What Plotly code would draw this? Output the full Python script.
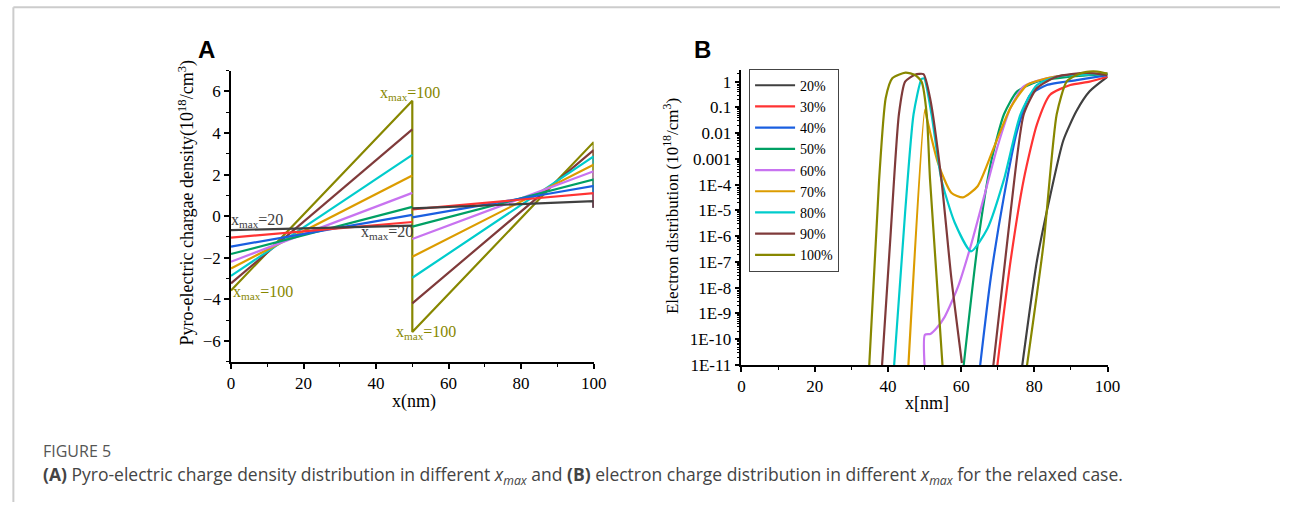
import plotly.graph_objects as go

W, H = 1293, 512

# ---------------- Panel A: pyro-electric charge density ----------------
XMAX = [20, 30, 40, 50, 60, 70, 80, 90, 100]
COLORS = ["#404040", "#ff3333", "#1a5fe0", "#00a064", "#c873f0",
          "#dc9c00", "#00cccc", "#7f3a3a", "#878700"]
A_AT_0 = [-0.67, -1.03, -1.46, -1.82, -2.19, -2.51, -2.87, -3.23, -3.57]
A_AT_50_LEFT = [-0.45, -0.28, 0.06, 0.45, 1.12, 1.96, 2.95, 4.17, 5.55]
A_AT_50_RIGHT = [0.38, 0.33, -0.06, -0.50, -1.10, -1.95, -2.96, -4.19, -5.57]
A_AT_100 = [0.72, 1.11, 1.46, 1.77, 2.16, 2.48, 2.87, 3.18, 3.56]
A_END_LEVEL = 0.42

# ---------------- Panel B: electron distribution (log scale) ----------------
B_LABELS = ["20%", "30%", "40%", "50%", "60%", "70%", "80%", "90%", "100%"]
B_X = [
    [76.7, 80.7, 84.3, 87.9, 91.5, 95.1, 100],
    [69.9, 73.5, 77.1, 80.7, 84.3, 89.8, 95.1, 100],
    [65.2, 68.1, 71.7, 75.3, 78.9, 83.4, 91.5, 100],
    [60.7, 64.5, 68.1, 71.7, 75.3, 80.7, 89.8, 100],
    [50.0, 50.1, 51.6, 53.2, 55.5, 59.1, 62.7, 66.3, 69.9, 73.5, 77.1, 83.4, 90.0, 100],
    [45.6, 50.1, 50.6, 53.7, 57.3, 60.5, 64.5, 69.0, 73.5, 78.0, 83.4, 89.8, 100],
    [41.7, 44.7, 47.0, 49.2, 49.9, 51.9, 54.6, 58.2, 62.7, 67.2, 71.7, 76.2, 80.7, 86.1, 100],
    [38.4, 40.7, 43.0, 44.7, 47.4, 49.7, 51.5, 54.6, 57.3, 60.2, None,
     68.8, 73.5, 77.1, 80.7, 86.1, 94.2, 100],
    [34.9, 37.6, 39.4, 41.2, 44.8, 47.4, 49.2, 50.6, 51.5, 54.9, None,
     78.0, 82.5, 86.1, 88.8, 91.5, 94.2, 97.0, 100],
]
B_Y = [
    [1e-11, 1.1e-7, 3.6e-5, 5.2e-3, 0.072, 0.42, 1.55],
    [1e-11, 1.1e-7, 1.6e-4, 0.022, 0.31, 0.74, 1.0, 1.55],
    [1e-11, 2.5e-8, 3.6e-5, 0.0126, 0.31, 0.74, 1.15, 1.8],
    [1e-11, 4.6e-7, 6.8e-4, 0.054, 0.42, 1.0, 1.55, 2.0],
    [1e-11, 1.5e-10, 1.6e-10, 2.6e-10, 7.4e-10, 1.05e-8, 4.6e-7, 3.6e-5,
     2.9e-3, 0.098, 0.65, 1.35, 1.85, 2.1],
    [1e-11, 0.083, 0.04, 6.8e-4, 4.9e-5, 3.2e-5, 8.7e-5, 2.9e-3, 0.098,
     0.74, 1.35, 1.85, 2.1],
    [1e-11, 8.5e-6, 0.054, 1.26, 1.32, 0.054, 1.6e-4, 3.5e-6, 2.6e-7,
     2.0e-6, 1.6e-4, 0.054, 0.74, 1.55, 2.0],
    [1e-11, 1e-6, 0.054, 1.0, 1.86, 1.95, 0.23, 1.6e-4, 2.5e-8, 1.2e-11, None,
     1e-11, 8.5e-6, 0.054, 0.56, 1.55, 2.2, 1.8],
    [1e-11, 1.6e-4, 0.23, 1.35, 2.24, 1.8, 1.0, 0.054, 1.6e-4, 1e-11, None,
     1e-11, 5e-7, 0.054, 1.0, 1.8, 2.4, 2.5, 2.0],
]

SERIF = "Liberation Serif"
fig = go.Figure()

# Panel A lines: drawn from 100 down to 20 so the short ones stay visible at x=100
for i in reversed(range(len(XMAX))):
    if XMAX[i] == 100:
        xs = [0, 50, 50, 100, 100]
        ys = [A_AT_0[i], A_AT_50_LEFT[i], A_AT_50_RIGHT[i], A_AT_100[i], A_END_LEVEL]
    else:
        xs = [0, 50, None, 50, 100, 100]
        ys = [A_AT_0[i], A_AT_50_LEFT[i], None, A_AT_50_RIGHT[i], A_AT_100[i], A_END_LEVEL]
    fig.add_trace(go.Scatter(x=xs, y=ys, mode="lines", xaxis="x", yaxis="y",
                             line=dict(color=COLORS[i], width=2.2),
                             showlegend=False, connectgaps=False,
                             hoverinfo="skip"))

# Panel B curves
for i, lab in enumerate(B_LABELS):
    fig.add_trace(go.Scatter(x=B_X[i], y=B_Y[i], mode="lines", name=lab,
                             xaxis="x2", yaxis="y2", connectgaps=False,
                             line=dict(color=COLORS[i], width=2.2,
                                       shape="spline", smoothing=0.6)))

axis_common = dict(showline=True, linecolor="black", linewidth=1.5,
                   ticks="outside", ticklen=5, tickwidth=1.5, tickcolor="black",
                   showgrid=False, zeroline=False, mirror=False,
                   tickfont=dict(family=SERIF, size=17, color="black"))

ya_dom = [1 - 369 / H, 1 - 72 / H]
yb_dom = [1 - 372.3 / H, 1 - 71.7 / H]

dec_vals = [10.0 ** k for k in range(-11, 1)]
dec_text = ["1E-11", "1E-10", "1E-9", "1E-8", "1E-7", "1E-6", "1E-5", "1E-4",
            "0.001", "0.01", "0.1", "1"]

fig.update_layout(
    width=W, height=H, autosize=False,
    margin=dict(l=0, r=0, t=0, b=0),
    paper_bgcolor="white", plot_bgcolor="white",
    xaxis=dict(axis_common, domain=[230 / W, 597.5 / W], range=[0, 100],
               tickvals=[0, 20, 40, 60, 80, 100], anchor="y",
               minor=dict(ticks="outside", ticklen=3, tickwidth=1.2,
                          tickcolor="black", dtick=10)),
    yaxis=dict(axis_common, domain=ya_dom, range=[-7, 7], anchor="x",
               tickvals=[-6, -4, -2, 0, 2, 4, 6],
               minor=dict(ticks="outside", ticklen=3, tickwidth=1.2,
                          tickcolor="black", dtick=1)),
    xaxis2=dict(axis_common, domain=[747.3 / W, 1118.3 / W], range=[0, 100],
                tickvals=[0, 20, 40, 60, 80, 100], anchor="y2",
                minor=dict(ticks="outside", ticklen=3, tickwidth=1.2,
                           tickcolor="black", dtick=10)),
    yaxis2=dict(axis_common, domain=yb_dom, type="log", range=[-11, 0.44],
                anchor="x2", tickvals=dec_vals, ticktext=dec_text,
                minor=dict(ticks="outside", ticklen=3, tickwidth=1,
                           tickcolor="black", dtick="D1")),
    legend=dict(x=755 / W, y=1 - 70 / H, xanchor="left", yanchor="top",
                bordercolor="#444", borderwidth=1, bgcolor="white",
                font=dict(family=SERIF, size=14, color="black"),
                tracegroupgap=0, itemwidth=40),
)

annotations = []

def ann(text, x, y, size=16, color="black", xref="paper", yref="paper",
        angle=0, family=SERIF, xanchor="center", yanchor="middle"):
    annotations.append(dict(text=text, x=x, y=y, xref=xref, yref=yref,
                            showarrow=False, textangle=angle,
                            xanchor=xanchor, yanchor=yanchor,
                            font=dict(family=family, size=size, color=color)))

OLIVE = COLORS[-1]
BLACK = COLORS[0]
xm = "x<sub>max</sub>"
ann(xm + "=100", 49.5, 5.9, 16, OLIVE, "x", "y")
ann(xm + "=100", 100.9, 3.8, 16, OLIVE, "x", "y")
ann(xm + "=20", 7.3, -0.2, 16, BLACK, "x", "y")
ann(xm + "=20", 43.0, -0.8, 16, BLACK, "x", "y")
ann(xm + "=100", 8.7, -3.65, 16, OLIVE, "x", "y")
ann(xm + "=100", 53.9, -5.6, 16, OLIVE, "x", "y")
ann(xm + "=20", 102.3, 0.3, 16, BLACK, "x", "y")

# axis titles
ann("Pyro-electric chargae density(10<sup>18</sup>/cm<sup>3</sup>)",
    185 / W, 1 - 207 / H, 18, angle=-90)
ann("x(nm)", 415 / W, 1 - 410 / H, 18)
ann("Electron distribution (10<sup>18</sup>/cm<sup>3</sup>)",
    676 / W, 1 - 210 / H, 17, angle=-90)
ann("x[nm]", 935 / W, 1 - 411 / H, 18)

# panel letters
ann("<b>A</b>", 205 / W, 1 - 50 / H, 24, family="Liberation Sans")
ann("<b>B</b>", 708 / W, 1 - 50 / H, 24, family="Liberation Sans")

# caption
ann("FIGURE 5", 37 / W, 1 - 460 / H, 16, "#555555", family="Open Sans",
    xanchor="left")
ann("<b>(A)</b> Pyro-electric charge density distribution in different "
    "<i>x<sub>max</sub></i> and <b>(B)</b> electron charge distribution in "
    "different <i>x<sub>max</sub></i> for the relaxed case.",
    37 / W, 1 - 485 / H, 17.5, "#444444", family="Open Sans", xanchor="left")

fig.update_layout(annotations=annotations)

# frame around the figure
fig.add_shape(type="line", xref="paper", yref="paper",
              x0=9.5 / W, x1=9.5 / W, y0=0, y1=1 - 7.5 / H,
              line=dict(color="#cccccc", width=2))
fig.add_shape(type="line", xref="paper", yref="paper",
              x0=9.5 / W, x1=1, y0=1 - 7.5 / H, y1=1 - 7.5 / H,
              line=dict(color="#cccccc", width=2))

fig.write_html("out.html")
